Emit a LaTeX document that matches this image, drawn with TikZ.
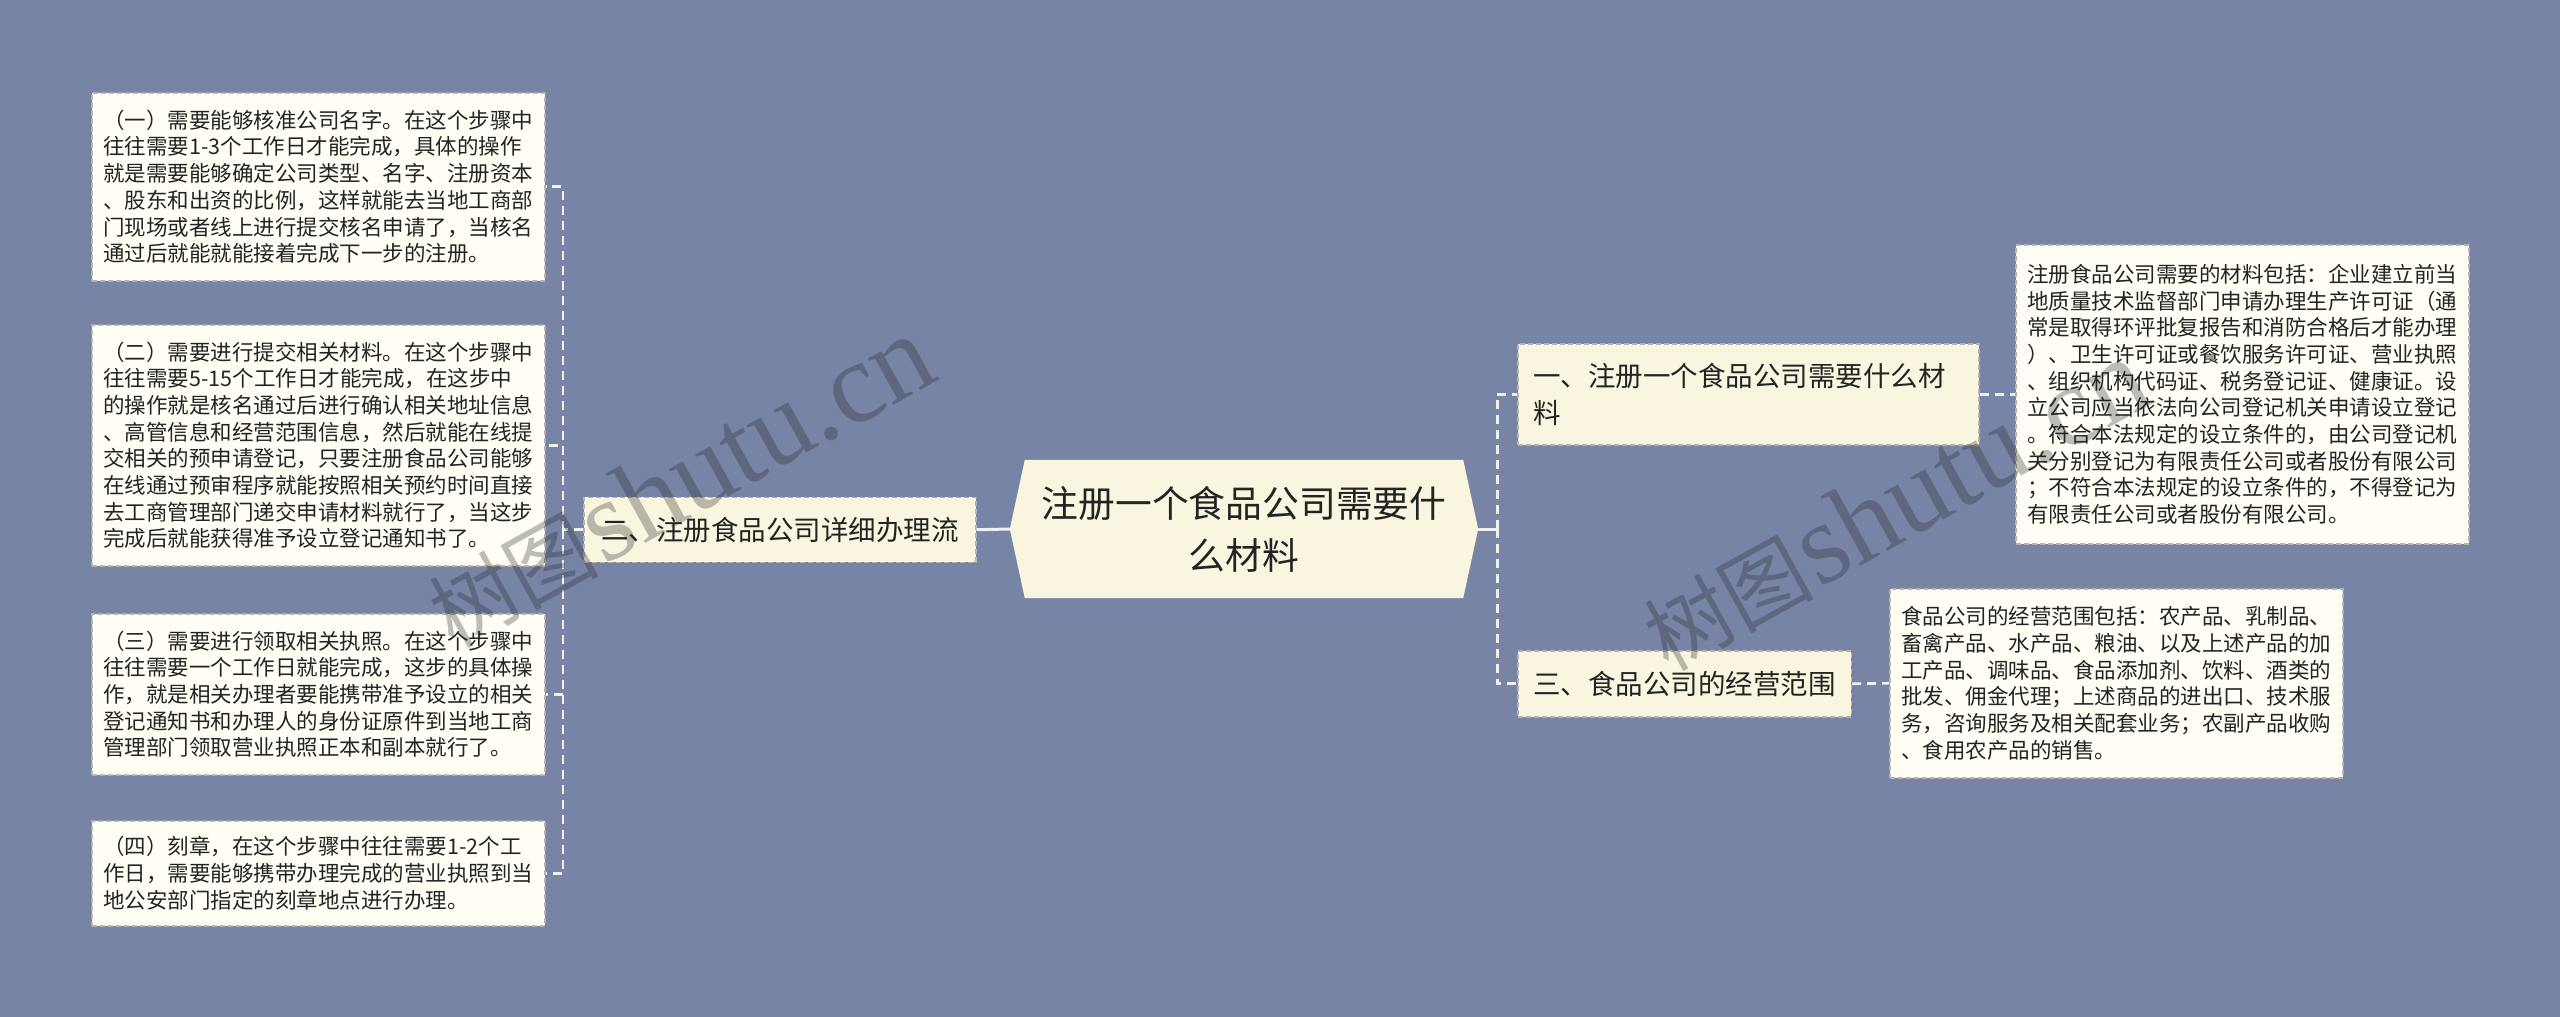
\documentclass[tikz,border=0pt]{standalone}
\usepackage{fontspec}
\setmainfont{Noto Sans CJK SC}
\newfontfamily\wmlatin{Liberation Serif}
\usetikzlibrary{backgrounds}
\definecolor{bgc}{RGB}{119,132,165}
\definecolor{leafc}{RGB}{255,253,244}
\definecolor{midc}{RGB}{250,245,223}
\definecolor{bordc}{RGB}{180,180,175}
\definecolor{connc}{RGB}{240,240,238}
\definecolor{txtc}{RGB}{35,35,35}
\tikzset{
  leaf/.style={rectangle, fill=leafc, draw=bordc, line width=1.5pt,
    dash pattern=on 5pt off 3pt, text width=430pt, inner xsep=11.5pt,
    inner ysep=0pt, align=left, anchor=north west, text=txtc,
    font={\fontsize{21.5pt}{26.7pt}\selectfont}},
  mid/.style={rectangle, fill=midc, draw=bordc, line width=1.5pt,
    dash pattern=on 5pt off 3pt, inner xsep=15.5pt, inner ysep=0pt,
    align=left, anchor=north west, text=txtc,
    font={\fontsize{27.5pt}{37pt}\selectfont}},
  rootnode/.style={rectangle, inner sep=0pt, minimum width=468pt,
    minimum height=138pt, align=center, text=txtc,
    font={\fontsize{36.8pt}{52pt}\selectfont}},
  conn/.style={draw=connc, line width=2.6pt, dash pattern=on 9pt off 6pt},
  solidconn/.style={draw=connc, line width=3pt},
  wm/.style={text=black!85, text opacity=0.3, inner sep=0pt}
}
\begin{document}
\begin{tikzpicture}[x=1pt, y=-1pt]
\useasboundingbox (0,0) rectangle (2560,1017);

% root
\node[rootnode] (root) at (1244,529) {注册一个食品公司需要什\\么材料};
\begin{pgfonlayer}{background}
\fill[bgc] (0,0) rectangle (2560,1017);
\fill[midc] (root.west) -- ([xshift=15pt]root.north west) -- ([xshift=-15pt]root.north east)
  -- (root.east) -- ([xshift=-15pt]root.south east) -- ([xshift=15pt]root.south west) -- cycle;
\end{pgfonlayer}

% left branch
\node[mid, minimum width=392pt, minimum height=65pt, align=center] (er) at (583,496.5) {二、注册食品公司详细办理流};

\node[leaf, minimum height=188pt] (b1) at (91,92) {（一）需要能够核准公司名字。在这个步骤中\\
往往需要1-3个工作日才能完成，具体的操作\\
就是需要能够确定公司类型、名字、注册资本\\
、股东和出资的比例，这样就能去当地工商部\\
门现场或者线上进行提交核名申请了，当核名\\
通过后就能就能接着完成下一步的注册。};

\node[leaf, minimum height=241pt] (b2) at (91,324) {（二）需要进行提交相关材料。在这个步骤中\\
往往需要5-15个工作日才能完成，在这步中\\
的操作就是核名通过后进行确认相关地址信息\\
、高管信息和经营范围信息，然后就能在线提\\
交相关的预申请登记，只要注册食品公司能够\\
在线通过预审程序就能按照相关预约时间直接\\
去工商管理部门递交申请材料就行了，当这步\\
完成后就能获得准予设立登记通知书了。};

\node[leaf, minimum height=161pt] (b3) at (91,613) {（三）需要进行领取相关执照。在这个步骤中\\
往往需要一个工作日就能完成，这步的具体操\\
作，就是相关办理者要能携带准予设立的相关\\
登记通知书和办理人的身份证原件到当地工商\\
管理部门领取营业执照正本和副本就行了。};

\node[leaf, minimum height=105pt] (b4) at (91,820) {（四）刻章，在这个步骤中往往需要1-2个工\\
作日，需要能够携带办理完成的营业执照到当\\
地公安部门指定的刻章地点进行办理。};

% right branches
\node[mid, text width=430pt, minimum height=101pt] (n1) at (1517,343) {一、注册一个食品公司需要什么材\\料};
\node[mid, minimum width=333pt, minimum height=66pt] (n3) at (1517,650) {三、食品公司的经营范围};

\node[leaf, minimum height=299pt] (m1) at (2015,244) {注册食品公司需要的材料包括：企业建立前当\\
地质量技术监督部门申请办理生产许可证（通\\
常是取得环评批复报告和消防合格后才能办理\\
）、卫生许可证或餐饮服务许可证、营业执照\\
、组织机构代码证、税务登记证、健康证。设\\
立公司应当依法向公司登记机关申请设立登记\\
。符合本法规定的设立条件的，由公司登记机\\
关分别登记为有限责任公司或者股份有限公司\\
；不符合本法规定的设立条件的，不得登记为\\
有限责任公司或者股份有限公司。};

\node[leaf, minimum height=189pt] (m3) at (1889,588) {食品公司的经营范围包括：农产品、乳制品、\\
畜禽产品、水产品、粮油、以及上述产品的加\\
工产品、调味品、食品添加剂、饮料、酒类的\\
批发、佣金代理；上述商品的进出口、技术服\\
务，咨询服务及相关配套业务；农副产品收购\\
、食用农产品的销售。};

% connectors
\coordinate (lj) at ([xshift=-20pt]er.west);
\coordinate (rj) at ([xshift=19pt]root.east);
\draw[solidconn] (root.west) -- (er.east);
\draw[conn] (er.west) -- (lj);
\draw[conn] (lj) |- (b1.east);
\draw[conn] (lj) |- (b2.east);
\draw[conn] (lj) |- (b3.east);
\draw[conn] (lj) |- (b4.east);
\draw[solidconn] (root.east) -- (rj);
\draw[conn] (rj) |- (n1.west);
\draw[conn] (rj) |- (n3.west);
\draw[conn] (n1.east) -- (m1.west);
\draw[conn] (n3.east) -- (m3.west);

% watermarks
\node[wm, rotate=29] (wm1) at (680,482) {{\fontsize{85pt}{90pt}\selectfont 树图} {\wmlatin\fontsize{115pt}{120pt}\selectfont shutu.cn}};
\node[wm, rotate=29] (wm2) at (1895,505) {{\fontsize{85pt}{90pt}\selectfont 树图} {\wmlatin\fontsize{115pt}{120pt}\selectfont shutu.cn}};
\end{tikzpicture}
\end{document}
